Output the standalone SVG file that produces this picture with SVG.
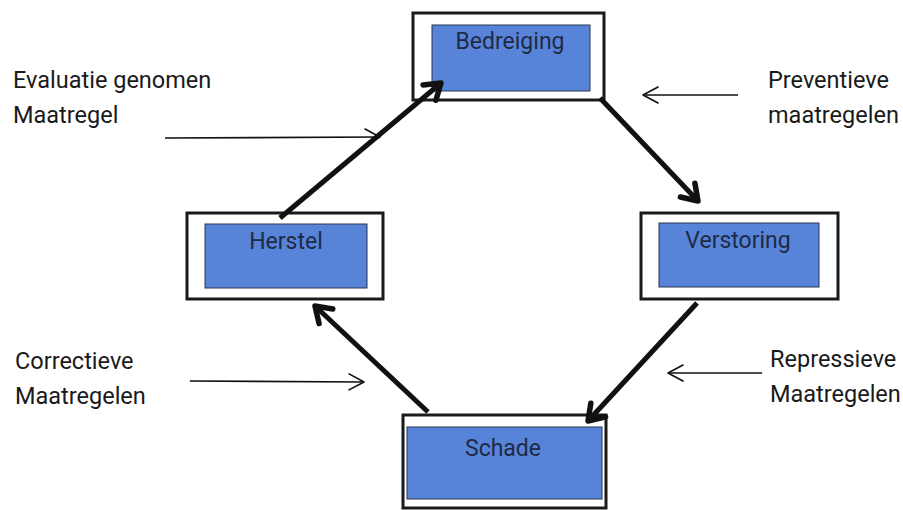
<svg xmlns="http://www.w3.org/2000/svg" width="903" height="510" viewBox="0 0 903 510">
<style>
.outer{fill:#fff;stroke:#1a1a1a;stroke-width:3}
.inner{fill:#5784d9;stroke:#2a3550;stroke-width:1}
.nl{font-family:Roboto,"Liberation Sans",sans-serif;font-size:23px;fill:#1f2a44;text-anchor:middle}
.lbl{font-family:Roboto,"Liberation Sans",sans-serif;font-size:23.5px;fill:#1a1a1a}
.thick{fill:none;stroke:#111;stroke-width:5;marker-end:url(#ah)}
.thin{fill:none;stroke:#111;stroke-width:1.6;marker-end:url(#ta)}
</style>
<defs>
<marker id="ah" markerUnits="userSpaceOnUse" viewBox="-24 -15 28 30" markerWidth="28" markerHeight="30" refX="0" refY="0" orient="auto">
<path d="M-15,-10 L0,0 L-15,10" fill="none" stroke="#111" stroke-width="5.5" stroke-linejoin="round" stroke-linecap="round"/>
</marker>
<marker id="ta" markerUnits="userSpaceOnUse" viewBox="-20 -12 24 24" markerWidth="24" markerHeight="24" refX="0" refY="0" orient="auto">
<path d="M-15,-8 L0,0 L-15,8" fill="none" stroke="#111" stroke-width="1.6" stroke-linejoin="round" stroke-linecap="round"/>
</marker>
</defs>
<rect width="903" height="510" fill="#fff"/>
<g id="bedreiging">
<rect class="outer" x="413" y="13" width="191" height="87"/>
<rect class="inner" x="432" y="25" width="158" height="66"/>
<text class="nl" x="510" y="49">Bedreiging</text>
</g>
<g id="herstel">
<rect class="outer" x="187" y="213" width="196" height="86"/>
<rect class="inner" x="205" y="224" width="162" height="64"/>
<text class="nl" x="286" y="249">Herstel</text>
</g>
<g id="verstoring">
<rect class="outer" x="641" y="213" width="197" height="86"/>
<rect class="inner" x="659" y="223" width="160" height="64"/>
<text class="nl" x="738" y="248">Verstoring</text>
</g>
<g id="schade">
<rect class="outer" x="403" y="415" width="203" height="93"/>
<rect class="inner" x="407" y="427" width="195" height="72"/>
<text class="nl" x="503" y="456">Schade</text>
</g>
<g id="labels">
<text class="lbl" x="13" y="88">Evaluatie genomen</text>
<text class="lbl" x="13" y="123">Maatregel</text>
<text class="lbl" x="768" y="88">Preventieve</text>
<text class="lbl" x="768" y="123">maatregelen</text>
<text class="lbl" x="15" y="369">Correctieve</text>
<text class="lbl" x="15" y="404">Maatregelen</text>
<text class="lbl" x="770" y="367">Repressieve</text>
<text class="lbl" x="770" y="402">Maatregelen</text>
</g>
<g id="connectors">
<path class="thick" d="M280,218 L441,83"/>
<path class="thick" d="M600,98 L698,201"/>
<path class="thick" d="M697,303 L588,421"/>
<path class="thick" d="M428,412 L315,306"/>
<path class="thin" d="M165,138 L380,137"/>
<path class="thin" d="M738,95 L643,95"/>
<path class="thin" d="M190,381 L364,382"/>
<path class="thin" d="M762,373 L668,373"/>
</g>
</svg>
